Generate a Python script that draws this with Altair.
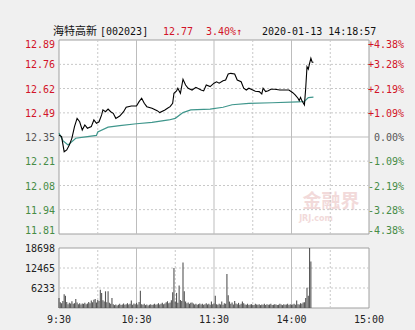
import altair as alt
import pandas as pd

# ---------------- data ----------------
stock_name = "海特高新"
stock_code = "[002023]"
last_price = "12.77"
change_text = "3.40%↑"
timestamp = "2020-01-13 14:18:57"
prev_close = 12.35

# minute index from 9:30 (0..120 morning, 120..240 afternoon)
price_minutes = [0, 2, 4, 6, 8, 10, 12, 14, 16, 18,
                 20, 22, 25, 27, 29, 31, 33, 34, 36, 38,
                 40, 42, 44, 47, 50, 52, 56, 60, 62, 64,
                 66, 68, 72, 76, 78, 82, 84, 86, 88, 89,
                 91, 92, 94, 96, 98, 100, 103, 106, 110, 112,
                 114, 117, 120, 122, 124, 127, 129, 131, 133, 136,
                 138, 141, 143, 145, 147, 150, 152, 155, 157, 158,
                 160, 162, 164, 167, 171, 175, 178, 181, 183, 185,
                 186, 187, 188, 190, 191, 192, 193, 194, 195, 196,
                 197]
price_values = [12.361, 12.352, 12.268, 12.278, 12.305, 12.344, 12.408, 12.454, 12.435, 12.389,
                12.417, 12.399, 12.408, 12.445, 12.426, 12.435, 12.473, 12.501, 12.491, 12.506,
                12.491, 12.482, 12.454, 12.467, 12.491, 12.516, 12.523, 12.523, 12.547, 12.566,
                12.538, 12.519, 12.510, 12.497, 12.486, 12.501, 12.510, 12.519, 12.538, 12.594,
                12.607, 12.622, 12.594, 12.672, 12.640, 12.622, 12.612, 12.627, 12.612, 12.607,
                12.640, 12.631, 12.650, 12.658, 12.650, 12.664, 12.668, 12.701, 12.705, 12.701,
                12.668, 12.658, 12.622, 12.612, 12.622, 12.612, 12.605, 12.603, 12.590, 12.622,
                12.603, 12.608, 12.616, 12.616, 12.612, 12.612, 12.612, 12.597, 12.584, 12.566,
                12.553, 12.571, 12.553, 12.529, 12.622, 12.742, 12.728, 12.761, 12.789, 12.767,
                12.767]

avg_minutes = [0, 3, 7, 13, 22, 29, 30, 38, 47, 60, 72, 85, 90, 96, 102, 117, 127,
               134, 147, 165, 185, 190, 193, 197]
avg_values = [12.372, 12.330, 12.305, 12.343, 12.352, 12.359, 12.378, 12.405, 12.413,
              12.424, 12.432, 12.445, 12.454, 12.486, 12.501, 12.505, 12.516, 12.530,
              12.538, 12.541, 12.546, 12.548, 12.570, 12.572]

volumes = [3100, 1800, 1500, 2200, 4300, 3800, 1900, 1200, 1600, 1400,
           2100, 1300, 1500, 2800, 1700, 1200, 1500, 1100, 1400, 1300,
           1600, 1200, 1400, 1900, 1500, 2300, 1800, 2600, 2800, 1700,
           2500, 2200, 5700, 4700, 2400, 2000, 5200, 1800, 5200, 1600,
           1300, 3100, 1200, 900, 1100, 800, 1000, 1300, 900, 1100,
           1400, 1000, 1200, 1500, 1100, 1300, 2300, 1000, 1400, 1200,
           1600, 1100, 1900, 5400, 1200, 1000, 1300, 900, 1100, 800,
           1000, 1200, 900, 1100, 1300, 1000, 1200, 1500, 1100, 1300,
           1600, 1200, 1400, 1800, 2100, 1500, 1700, 2400, 4900, 12465,
           2000, 4700, 1600, 7000, 2500, 2200, 14200, 5200, 2000, 1500,
           1700, 1300, 1600, 1750, 1400, 1100, 1300, 1000, 1200, 1400,
           1100, 1300, 1000, 1200, 1500, 1100, 1300, 1000, 2000, 1200,
           1400, 3800, 1200, 1000, 1300, 1100, 2000, 1000, 1500, 1300,
           10600, 4000, 2000, 1300, 1700, 1100, 2200, 1400, 1200, 1600,
           1000, 1300, 2000, 1500, 1100, 1000, 1300, 900, 1100, 1200,
           1000, 900, 1300, 1100, 1000, 1200, 900, 1100, 1000, 1300,
           900, 1200, 1000, 1100, 1300, 900, 1000, 1200, 1100, 900,
           1000, 1300, 1100, 900, 1200, 1000, 1100, 1300, 900, 1200,
           1000, 1100, 1300, 1000, 2300, 1200, 1100, 1500, 1300, 1750,
           1800, 3100, 6300, 3800, 18698, 14500]

pct_levels = [4.38, 3.28, 2.19, 1.09, 0.00, -1.09, -2.19, -3.28, -4.38]
price_labels = ["12.89", "12.76", "12.62", "12.49", "12.35", "12.21", "12.08", "11.94", "11.81"]
pct_labels = ["+4.38%", "+3.28%", "+2.19%", "+1.09%", "0.00%", "-1.09%", "-2.19%", "-3.28%", "-4.38%"]
vol_ticks = [6233, 12465, 18698]
vol_labels = ["6233", "12465", "18698"]
grid_minutes = [30, 60, 90, 120, 150, 180, 210]
time_ticks = [0, 60, 120, 180, 240]
time_labels = ["9:30", "10:30", "11:30", "14:00", "15:00"]
watermark = "金融界"
watermark_sub = "JRJ.com"

# ---------------- styling ----------------
RED = "#d21428"
GREEN = "#468c46"
GRAY = "#555555"
GRID = "#c8c8c8"
HOUR = "#bdbdbd"
BORDER = "#a0a0a0"
TEAL = "#3f968c"
MONO = "DejaVu Sans Mono"
CJK = "Noto Sans CJK SC"

lo = prev_close * (1 + min(pct_levels) / 100)
hi = prev_close * (1 + max(pct_levels) / 100)
vol_max = max(vol_ticks)

levels = pd.DataFrame({
    "pct": pct_levels,
    "level": [prev_close * (1 + p / 100) for p in pct_levels],
    "plabel": price_labels,
    "rlabel": pct_labels,
    "sign": ["up" if p > 0 else ("flat" if p == 0 else "down") for p in pct_levels],
})
price_df = pd.DataFrame({"m": price_minutes, "price": price_values})
avg_df = pd.DataFrame({"m": avg_minutes, "avg": avg_values})
vol_df = pd.DataFrame({"m": list(range(len(volumes))), "vol": volumes})
vgrid_df = pd.DataFrame({"m": grid_minutes})
vtick_df = pd.DataFrame({"v": vol_ticks, "label": vol_labels})
time_df = pd.DataFrame({"m": time_ticks, "label": time_labels})
one = pd.DataFrame({"k": [0]})

xs = alt.Scale(domain=[0, 240], nice=False, zero=False)
ps = alt.Scale(domain=[lo, hi], range=[194, 0], nice=False, zero=False)
vs = alt.Scale(domain=[0, vol_max], range=[268, 208], nice=False, zero=True)


def X(f):
    return alt.X(f, type="quantitative", scale=xs, axis=None)


def XD(v):
    return alt.XDatum(v, type="quantitative", scale=xs, axis=None)


def PY(f):
    return alt.Y(f, type="quantitative", scale=ps, axis=None)


def PYD(v):
    return alt.YDatum(v, type="quantitative", scale=ps, axis=None)


def VY(f):
    return alt.Y(f, type="quantitative", scale=vs, axis=None)


def VYD(v):
    return alt.YDatum(v, type="quantitative", scale=vs, axis=None)


sign_color = alt.Color("sign:N", scale=alt.Scale(domain=["up", "flat", "down"],
                                                 range=[RED, GRAY, GREEN]), legend=None)

# ---------------- price panel ----------------
bg_p = alt.Chart(one).mark_rect(fill="white", stroke=BORDER, strokeWidth=1).encode(
    x=XD(0), x2=alt.X2Datum(240), y=PYD(lo), y2=alt.Y2Datum(hi))
hg_dash = alt.Chart(levels).transform_filter("datum.pct != 0 && abs(datum.pct) < 4").mark_rule(
    color=GRID, strokeDash=[2, 2], strokeWidth=1).encode(x=XD(0), x2=alt.X2Datum(240), y=PY("level"))
hg_solid = alt.Chart(levels).transform_filter("datum.pct == 0").mark_rule(
    color=HOUR, strokeWidth=1).encode(x=XD(0), x2=alt.X2Datum(240), y=PY("level"))
vg_dash_p = alt.Chart(vgrid_df).transform_filter("datum.m % 60 != 0").mark_rule(
    color=GRID, strokeDash=[2, 2], strokeWidth=1).encode(x=X("m"), y=PYD(lo), y2=alt.Y2Datum(hi))
vg_solid_p = alt.Chart(vgrid_df).transform_filter("datum.m % 60 == 0").mark_rule(
    color=HOUR, strokeWidth=1).encode(x=X("m"), y=PYD(lo), y2=alt.Y2Datum(hi))
avg_line = alt.Chart(avg_df).mark_line(color=TEAL, strokeWidth=1.2).encode(x=X("m"), y=PY("avg"))
price_line = alt.Chart(price_df).mark_line(color="black", strokeWidth=1.1).encode(x=X("m"), y=PY("price"))


def level_labels(field, xval, dx):
    out = []
    for flt, baseline, dy in [("datum.pct > 4", "top", 0),
                              ("abs(datum.pct) <= 4", "middle", 1),
                              ("datum.pct < -4", "alphabetic", 0)]:
        out.append(alt.Chart(levels).transform_filter(flt).mark_text(
            align="right", baseline=baseline, dx=dx, dy=dy, font=MONO, fontSize=10).encode(
            x=XD(xval), y=PY("level"), text=alt.Text(f"{field}:N"), color=sign_color))
    return out


def header(txt, xpos, color, font, size):
    return alt.Chart(pd.DataFrame({"t": [txt]})).mark_text(
        align="left", baseline="middle", font=font, fontSize=size, color=color).encode(
        x=alt.value(xpos), y=alt.value(-8), text="t:N")


headers = [
    header(stock_name, -1, "#111111", CJK, 11),
    header(stock_code, 46, "#111111", MONO, 10),
    header(last_price, 109, RED, MONO, 10),
    header(change_text, 152, RED, MONO, 10),
    header(timestamp, 208, "#111111", MONO, 10),
]

wm = alt.Chart(pd.DataFrame({"t": [watermark]})).mark_text(
    align="center", baseline="middle", font=CJK, fontSize=19, fontWeight="bold", color="#f2dada").encode(
    x=alt.value(277), y=alt.value(162), text="t:N")
wm2 = alt.Chart(pd.DataFrame({"t": [watermark_sub]})).mark_text(
    align="center", baseline="middle", font="DejaVu Sans", fontSize=8, fontWeight="bold", color="#f2dada").encode(
    x=alt.value(262), y=alt.value(179), text="t:N")

price_group = alt.layer(
    bg_p, wm, wm2, hg_dash, hg_solid, vg_dash_p, vg_solid_p, avg_line, price_line,
    *level_labels("plabel", 0, -4), *level_labels("rlabel", 240, 35), *headers)

# ---------------- volume panel ----------------
bg_v = alt.Chart(one).mark_rect(fill="white", stroke=BORDER, strokeWidth=1).encode(
    x=XD(0), x2=alt.X2Datum(240), y=VYD(0), y2=alt.Y2Datum(vol_max))
hg_v = alt.Chart(vtick_df).transform_filter(f"datum.v < {vol_max}").mark_rule(
    color=GRID, strokeDash=[2, 2], strokeWidth=1).encode(x=XD(0), x2=alt.X2Datum(240), y=VY("v"))
vg_dash_v = alt.Chart(vgrid_df).transform_filter("datum.m % 60 != 0").mark_rule(
    color=GRID, strokeDash=[2, 2], strokeWidth=1).encode(x=X("m"), y=VYD(0), y2=alt.Y2Datum(vol_max))
vg_solid_v = alt.Chart(vgrid_df).transform_filter("datum.m % 60 == 0").mark_rule(
    color=HOUR, strokeWidth=1).encode(x=X("m"), y=VYD(0), y2=alt.Y2Datum(vol_max))
bars = alt.Chart(vol_df).mark_bar(color="#555555", width=1.1).encode(x=X("m"), y=VY("vol"))
vol_text = alt.Chart(vtick_df).mark_text(
    align="right", baseline="middle", dx=-4, dy=1, font=MONO, fontSize=10, color="#222222").encode(
    x=XD(0), y=VY("v"), text="label:N")
time_text = alt.Chart(time_df).mark_text(
    align="center", baseline="alphabetic", dy=15, font=MONO, fontSize=10, color="#222222").encode(
    x=X("m"), y=VYD(0), text="label:N")

vol_group = alt.layer(bg_v, hg_v, vg_dash_v, vg_solid_v, bars, vol_text, time_text)

chart = alt.layer(price_group, vol_group).resolve_scale(y="independent").properties(
    width=320, height=268,
    padding={"left": 54, "top": 40, "right": 41, "bottom": 22},
    autosize=alt.AutoSizeParams(type="none"),
    background="#f0f0f0",
).configure_view(stroke=None)

chart.save("out.html", embed_options={"renderer": "svg", "actions": False})
